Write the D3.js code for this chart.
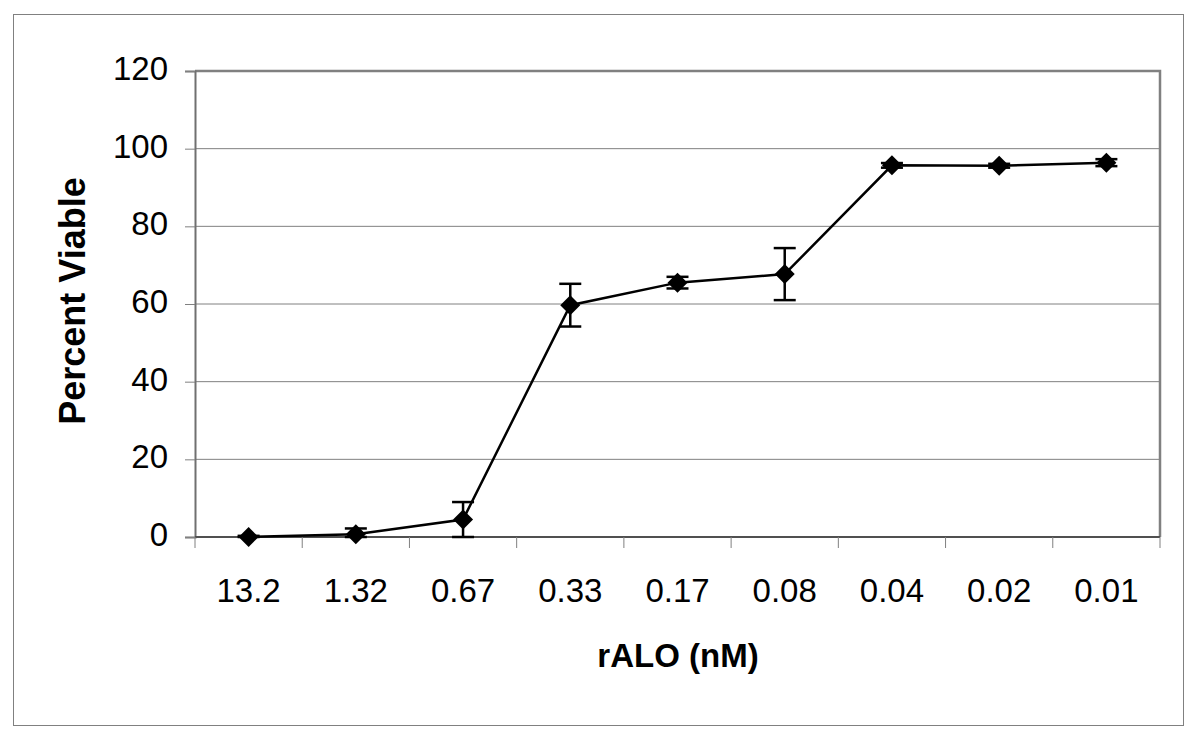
<!DOCTYPE html>
<html>
<head>
  <meta charset="utf-8">
  <script src="https://d3js.org/d3.v7.min.js"></script>
  <style>
    body { margin: 0; background: #fff; }
    svg text { font-family: "Liberation Sans", Arial, sans-serif; }
  </style>
</head>
<body>
  <svg id="viz" width="1200" height="739"></svg>
  <script>
    // data
    var categories = ["13.2", "1.32", "0.67", "0.33", "0.17", "0.08", "0.04", "0.02", "0.01"];
    var viable = [0, 0.7, 4.5, 59.7, 65.5, 67.7, 95.7, 95.6, 96.4];
    var errors = [0.3, 1.5, 4.5, 5.5, 1.5, 6.7, 0.6, 0.5, 0.9];
    var yTicks = [0, 20, 40, 60, 80, 100, 120];

    var svg = d3.select("#viz");
    var margin = { left: 195, right: 1160, top: 71, bottom: 537 };

    // outer frame
    svg.append("rect")
      .attr("x", 13.5).attr("y", 14.5)
      .attr("width", 1170).attr("height", 711)
      .attr("fill", "#fff")
      .attr("stroke", "#808080")
      .attr("stroke-width", 1);

    var x = d3.scaleBand().domain(categories).range([margin.left, margin.right]);
    var y = d3.scaleLinear().domain([0, 120]).range([margin.bottom, margin.top]);

    // grid lines
    svg.append("g").selectAll("line")
      .data(yTicks.filter(function(d) { return d > 0 && d < 120; }))
      .enter().append("line")
      .attr("x1", margin.left).attr("x2", margin.right)
      .attr("y1", function(d) { return y(d); })
      .attr("y2", function(d) { return y(d); })
      .attr("stroke", "#808080").attr("stroke-width", 1);

    // plot border (top/right)
    svg.append("path")
      .attr("d", "M" + margin.left + "," + margin.top + "H" + margin.right + "V" + margin.bottom)
      .attr("fill", "none")
      .attr("stroke", "#808080").attr("stroke-width", 2.5);

    // y axis
    var yAxis = svg.append("g")
      .attr("transform", "translate(" + margin.left + ",0)")
      .call(d3.axisLeft(y).tickValues(yTicks).tickSize(10).tickPadding(17));
    yAxis.select(".domain").attr("stroke", "#707070").attr("stroke-width", 2);
    yAxis.selectAll(".tick line").attr("stroke", "#808080");
    yAxis.selectAll("text")
      .attr("fill", "#000")
      .attr("dy", "0.26em")
      .style("font-size", "33px")
      .style("font-family", "Liberation Sans, Arial, sans-serif");

    // x axis with ticks between categories
    var xAxis = svg.append("g")
      .attr("transform", "translate(0," + margin.bottom + ")");
    xAxis.append("line")
      .attr("x1", margin.left).attr("x2", margin.right)
      .attr("y1", 0).attr("y2", 0)
      .attr("stroke", "#505050").attr("stroke-width", 2);
    var bounds = categories.map(function(c) { return x(c); }).concat([margin.right]);
    xAxis.selectAll(".sep").data(bounds).enter().append("line")
      .attr("class", "sep")
      .attr("x1", function(d) { return d; }).attr("x2", function(d) { return d; })
      .attr("y1", 0).attr("y2", 11)
      .attr("stroke", "#808080");
    xAxis.selectAll(".lbl").data(categories).enter().append("text")
      .attr("class", "lbl")
      .attr("x", function(d) { return x(d) + x.bandwidth() / 2; })
      .attr("y", 65)
      .attr("text-anchor", "middle")
      .style("font-size", "33px")
      .text(function(d) { return d; });

    // axis titles
    svg.append("text")
      .attr("x", 678)
      .attr("y", 667)
      .attr("text-anchor", "middle")
      .style("font-size", "33px").style("font-weight", "bold")
      .text("rALO (nM)");
    svg.append("text")
      .attr("transform", "translate(85,301) rotate(-90)")
      .attr("text-anchor", "middle")
      .style("font-size", "36px").style("font-weight", "bold")
      .text("Percent Viable");

    var cx = function(i) { return x(categories[i]) + x.bandwidth() / 2; };

    // error bars
    var eb = svg.append("g").selectAll("g").data(viable).enter().append("g");
    eb.append("line")
      .attr("x1", function(d, i) { return cx(i); })
      .attr("x2", function(d, i) { return cx(i); })
      .attr("y1", function(d, i) { return y(Math.max(0, d - errors[i])); })
      .attr("y2", function(d, i) { return y(d + errors[i]); })
      .attr("stroke", "#000").attr("stroke-width", 2.5);
    [1, -1].forEach(function(s) {
      eb.append("line")
        .attr("x1", function(d, i) { return cx(i) - 11; })
        .attr("x2", function(d, i) { return cx(i) + 11; })
        .attr("y1", function(d, i) { return y(Math.max(0, d + s * errors[i])); })
        .attr("y2", function(d, i) { return y(Math.max(0, d + s * errors[i])); })
        .attr("stroke", "#000").attr("stroke-width", 2.5);
    });

    // line
    var line = d3.line()
      .x(function(d, i) { return cx(i); })
      .y(function(d) { return y(d); });
    svg.append("path")
      .datum(viable)
      .attr("d", line)
      .attr("fill", "none")
      .attr("stroke", "#000")
      .attr("stroke-width", 2.5);

    // diamond markers
    svg.append("g").selectAll("path").data(viable).enter().append("path")
      .attr("transform", function(d, i) { return "translate(" + cx(i) + "," + y(d) + ")"; })
      .attr("d", "M0,-10L10,0L0,10L-10,0Z")
      .attr("fill", "#000");
  </script>
</body>
</html>
